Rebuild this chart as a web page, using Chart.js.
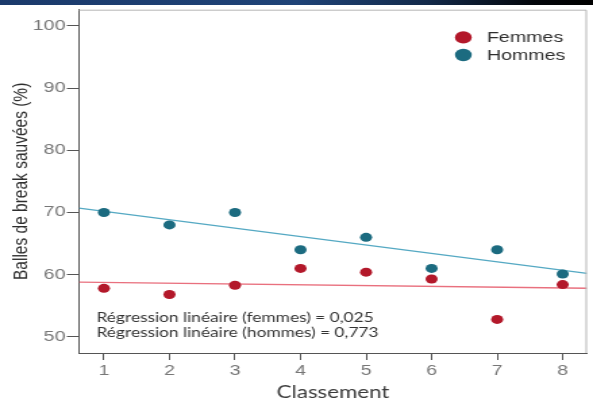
<!DOCTYPE html>
<html><head><meta charset="utf-8">
<script src="https://cdn.jsdelivr.net/npm/chart.js@4"></script>
<style>
html,body{margin:0;padding:0;background:#fff;width:593px;height:400px;overflow:hidden;}
#band{position:absolute;left:0;top:0;width:593px;height:5px;background:linear-gradient(90deg,#1b3a6b 0%,#1f4377 50%,#132a4a 72%,#03060b 90%,#000 100%);z-index:2}
#wrap{position:absolute;left:0;top:0;width:439px;height:400px;transform:scaleX(1.3508);transform-origin:0 0;}
</style></head><body>
<div id="wrap"><canvas id="c" width="439" height="400"></canvas></div>
<div id="band"></div>
<script>
// ---- data ----
const categories = [1, 2, 3, 4, 5, 6, 7, 8];
const femmes = [57.8, 56.8, 58.3, 61.0, 60.4, 59.3, 52.8, 58.4];
const hommes = [70.0, 68.0, 70.0, 64.0, 66.0, 61.0, 64.0, 60.1];
const fitX = [0.62, 8.37];
const femmesFit = [58.8, 57.8];
const hommesFit = [70.7, 60.2];
const xTicks = [1, 2, 3, 4, 5, 6, 7, 8];
const yTicks = [50, 60, 70, 80, 90, 100];
const seriesNames = ['Femmes', 'Hommes'];
const annotationLines = ['Régression linéaire (femmes) = 0,025', 'Régression linéaire (hommes) = 0,773'];
const xTitle = 'Classement';
const yTitle = 'Balles de break sauvées (%)';

// ---- styles ----
const RED = '#b3182a', TEAL = '#1c6b80';
const RED_LINE = '#e9707e', TEAL_LINE = '#55a9c3';
const AX = '#555';
const tickFont = {family: '"Liberation Sans", Arial, sans-serif', size: 14.5};

const deco = {
  id: 'deco',
  afterDraw(chart) {
    const {ctx, chartArea: a} = chart;
    ctx.save();
    ctx.strokeStyle = '#b5b5b5';
    ctx.lineWidth = 1;
    ctx.beginPath();
    ctx.moveTo(a.left, a.top + 0.5);
    ctx.lineTo(a.right - 0.5, a.top + 0.5);
    ctx.lineTo(a.right - 0.5, a.bottom);
    ctx.stroke();
    // legend
    const sets = chart.data.datasets.filter(d => d.isSeries);
    ctx.font = '14.5px "Liberation Sans", Arial, sans-serif';
    ctx.textBaseline = 'middle';
    ctx.textAlign = 'left';
    sets.forEach((d, i) => {
      const cy = a.top + 27.7 + i * 17.6;
      const cx = a.left + 284.5;
      ctx.fillStyle = d.backgroundColor;
      ctx.beginPath();
      ctx.arc(cx, cy, 6.2, 0, Math.PI * 2);
      ctx.fill();
      ctx.fillStyle = '#2e2e2e';
      ctx.fillText(d.label, cx + 17.5, cy + 0.5);
    });
    // annotation
    ctx.font = '12.8px Lato, sans-serif';
    ctx.fillStyle = '#333';
    annotationLines.forEach((t, i) => {
      ctx.fillText(t, a.left + 13, a.top + 308.5 + i * 15);
    });
    ctx.restore();
  }
};

new Chart(document.getElementById('c'), {
  type: 'scatter',
  data: {
    datasets: [
      {label: seriesNames[0], isSeries: true, data: categories.map((x, i) => ({x, y: femmes[i]})),
        backgroundColor: RED, borderWidth: 0, pointRadius: 4.5, order: 1},
      {label: seriesNames[1], isSeries: true, data: categories.map((x, i) => ({x, y: hommes[i]})),
        backgroundColor: TEAL, borderWidth: 0, pointRadius: 4.5, order: 1},
      {type: 'line', label: 'fitF', data: fitX.map((x, i) => ({x, y: femmesFit[i]})),
        borderColor: RED_LINE, borderWidth: 1.4, pointRadius: 0, fill: false, order: 2},
      {type: 'line', label: 'fitH', data: fitX.map((x, i) => ({x, y: hommesFit[i]})),
        borderColor: TEAL_LINE, borderWidth: 1.4, pointRadius: 0, fill: false, order: 2}
    ]
  },
  options: {
    responsive: false,
    animation: false,
    devicePixelRatio: 1,
    layout: {padding: {top: 8, right: 1, left: 0, bottom: 0}},
    plugins: {legend: {display: false}, tooltip: {enabled: false}},
    scales: {
      x: {
        type: 'linear', min: 0.62, max: 8.37,
        afterBuildTicks: s => { s.ticks = xTicks.map(v => ({value: v})); },
        afterFit: s => { s.height = 47; },
        ticks: {font: tickFont, color: '#777', padding: 2, maxRotation: 0, autoSkip: false},
        grid: {drawOnChartArea: false, drawTicks: true, tickLength: 7, color: AX},
        border: {display: true, color: AX, width: 1},
        title: {display: true, text: xTitle, color: '#3a3a3a', font: {family: 'Lato, sans-serif', size: 16.5, lineHeight: 1}, padding: {top: 0, bottom: -1}}
      },
      y: {
        type: 'linear', min: 47.4, max: 102.6,
        afterBuildTicks: s => { s.ticks = yTicks.map(v => ({value: v})); },
        afterFit: s => { s.width = 58.5; },
        ticks: {font: tickFont, color: '#777', padding: 1},
        grid: {drawOnChartArea: false, drawTicks: true, tickLength: 9, color: AX},
        border: {display: true, color: AX, width: 1},
        title: {display: true, text: yTitle, color: '#2e2e2e', font: {family: '"Liberation Sans", Arial, sans-serif', size: 15.5, lineHeight: 1}, padding: {top: 8, bottom: 0}}
      }
    }
  },
  plugins: [deco]
});
</script>
</body></html>
